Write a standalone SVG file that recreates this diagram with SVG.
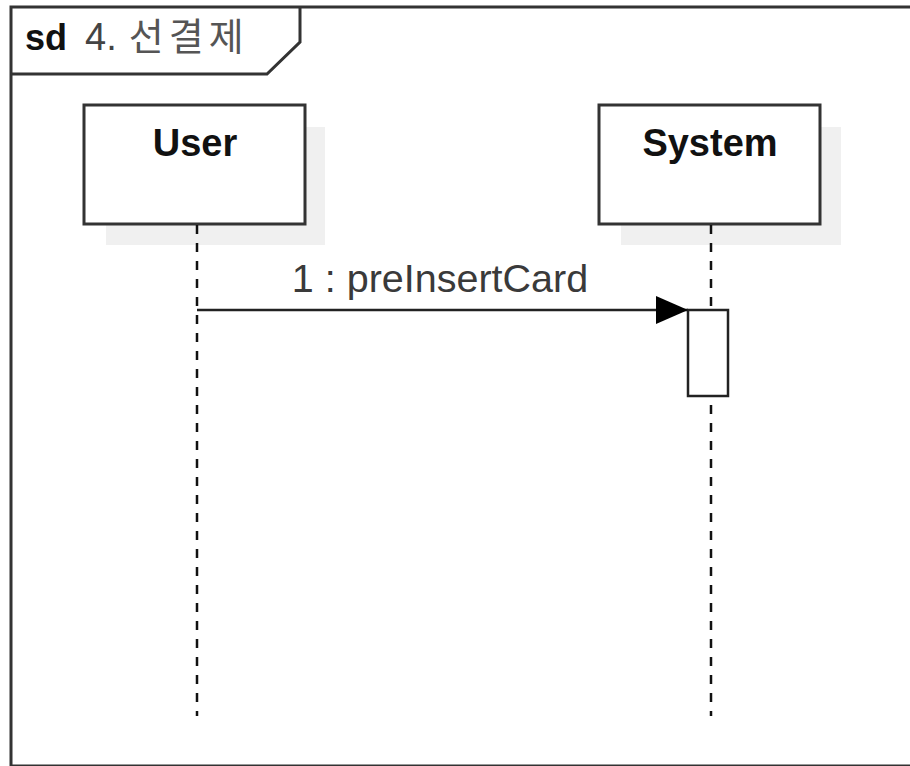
<svg xmlns="http://www.w3.org/2000/svg" width="910" height="766" viewBox="0 0 910 766">
<style>
.frame{fill:none;stroke:#333;stroke-width:3}
.box{fill:#fff;stroke:#333;stroke-width:3}
.shadow{fill:#f0f0f0;stroke:none}
.life{stroke:#111;stroke-width:2.5;stroke-dasharray:9 9;fill:none}
.name{font-family:"Liberation Sans",Arial,sans-serif;font-weight:bold;font-size:38px;fill:#111;text-anchor:middle}
.msg{font-family:"Liberation Sans",Arial,sans-serif;font-size:39.5px;fill:#3a3a3a;text-anchor:middle}
.title{font-family:"Liberation Sans","Noto Sans CJK KR",sans-serif;font-size:36px}
</style>
<defs>
<marker id="arrow" markerUnits="userSpaceOnUse" markerWidth="34" markerHeight="30" refX="32" refY="14" orient="auto">
<path d="M0,0 L32,14 L0,28 Z" fill="#000"/>
</marker>
</defs>
<rect width="910" height="766" fill="#fff"/>
<g id="frame">
<path class="frame" d="M911,7 L11,7 L11,766 L911,766"/>
<path class="frame" d="M11,74 L267,74 L300,42 L300,7"/>
<text class="title" x="25" y="50"><tspan font-weight="bold" fill="#111">sd</tspan><tspan fill="#444" dx="18" font-size="38px">4.</tspan><tspan fill="#555" dx="12" font-size="38px" letter-spacing="5">선결제</tspan></text>
</g>
<g id="user">
<rect class="shadow" x="106" y="127" width="219" height="118"/>
<rect class="box" x="84" y="105" width="221" height="119"/>
<text class="name" x="195" y="156">User</text>
<line class="life" x1="197" y1="225" x2="197" y2="716"/>
</g>
<g id="system">
<rect class="shadow" x="621" y="127" width="220" height="118"/>
<rect class="box" x="599" y="105" width="221" height="119"/>
<text class="name" x="710" y="156">System</text>
<line class="life" x1="711" y1="225" x2="711" y2="716"/>
<rect x="688" y="310" width="40" height="86" fill="#fff" stroke="#222" stroke-width="2.5"/>
</g>
<g id="connectors">
<line x1="197" y1="310" x2="688" y2="310" stroke="#222" stroke-width="2.5" marker-end="url(#arrow)"/>
<text class="msg" x="440" y="292">1 : preInsertCard</text>
</g>
</svg>
